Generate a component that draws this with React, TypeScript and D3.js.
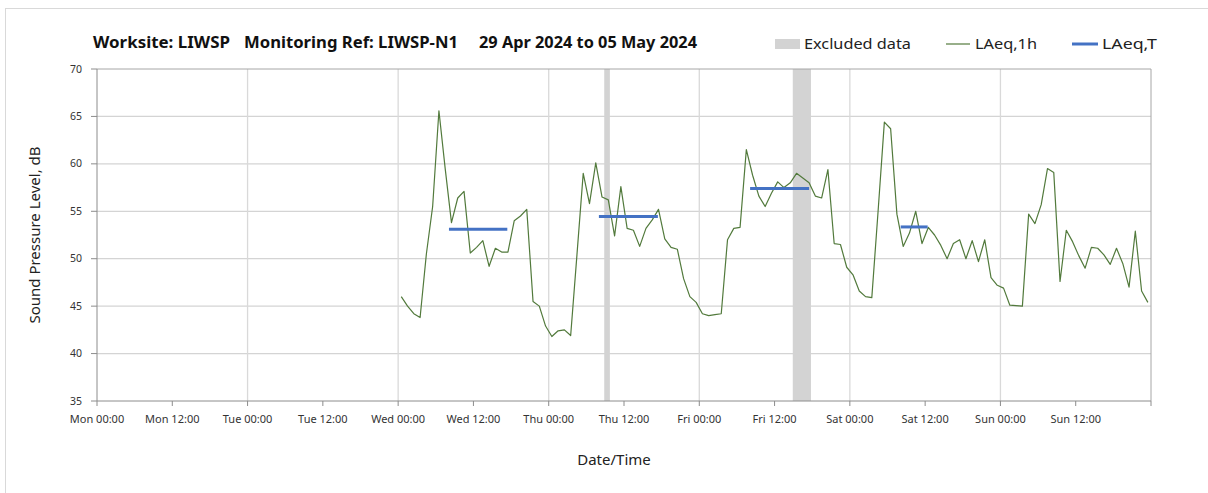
import * as d3 from "d3";

// hourly LAeq,1h values, first point Wed 00:30, one per hour
const FIRST_HOUR = 48.5; // hours from Mon 00:00
const LAEQ_1H = [
  46.0, 45.0, 44.2, 43.8, 50.5, 55.5, 65.6, 59.5, 53.8, 56.4, 57.1, 50.6,
  51.2, 51.9, 49.2, 51.1, 50.7, 50.7, 54.0, 54.5, 55.2, 45.5, 45.0, 42.9,
  41.8, 42.4, 42.5, 41.9, 50.4, 59.0, 55.8, 60.1, 56.5, 56.2, 52.4, 57.6,
  53.2, 53.0, 51.3, 53.2, 54.1, 55.2, 52.1, 51.2, 51.0, 47.9, 46.0, 45.4,
  44.2, 44.0, 44.1, 44.2, 52.0, 53.2, 53.3, 61.5, 58.8, 56.6, 55.5, 56.9,
  58.1, 57.5, 58.0, 59.0, 58.5, 58.0, 56.6, 56.4, 59.4, 51.6, 51.5, 49.1,
  48.3, 46.6, 46.0, 45.9, 55.0, 64.4, 63.7, 54.7, 51.3, 52.7, 55.0, 51.6,
  53.3, 52.5, 51.4, 50.0, 51.6, 52.0, 50.0, 51.9, 49.7, 52.0, 48.0, 47.2,
  46.9, 45.1, 45.05, 45.0, 54.7, 53.7, 55.7, 59.5, 59.1, 47.6, 53.0, 51.8,
  50.3, 49.0, 51.2, 51.1, 50.4, 49.4, 51.1, 49.5, 47.0, 52.9, 46.6, 45.4,
];

// LAeq,T periods: [start hour, end hour, level]
const LAEQ_T = [
  [56.1, 65.4, 53.1],
  [80.0, 89.4, 54.45],
  [104.1, 113.5, 57.4],
  [128.1, 132.4, 53.35],
];

// excluded periods: [start hour, end hour]
const EXCLUDED = [
  [80.85, 81.75],
  [110.9, 113.8],
];

const X_TICK_LABELS = [
  "Mon 00:00", "Mon 12:00", "Tue 00:00", "Tue 12:00", "Wed 00:00", "Wed 12:00",
  "Thu 00:00", "Thu 12:00", "Fri 00:00", "Fri 12:00", "Sat 00:00", "Sat 12:00",
  "Sun 00:00", "Sun 12:00",
];
const Y_TICKS = [35, 40, 45, 50, 55, 60, 65, 70];

const TITLE_PARTS = [
  { text: "Worksite: LIWSP", x: 93, w: 137 },
  { text: "Monitoring Ref: LIWSP-N1", x: 244, w: 214 },
  { text: "29 Apr 2024 to 05 May 2024", x: 479, w: 218 },
];

const FONT = "'Noto Sans', 'Open Sans', sans-serif";
const W = 1208;
const H = 493;

export default function App() {
  const left = 97, right = 1151, top = 69, bottom = 401;
  const x = d3.scaleLinear().domain([0, 168]).range([left, right]);
  const y = d3.scaleLinear().domain([35, 70]).range([bottom, top]);

  const line = d3
    .line<number>()
    .x((_, i) => x(FIRST_HOUR + i))
    .y((d) => y(d));

  const tickHours = d3.range(0, 169, 12);
  const dayHours = d3.range(24, 168, 24);

  return (
    <div style={{ position: "absolute", left: 0, top: 0 }}>
      <svg width={W} height={H} style={{ display: "block", fontFamily: FONT }}>
        <rect x={0} y={0} width={W} height={H} fill="#fff" />
        <rect x={5.5} y={8.5} width={W + 20} height={H + 20} fill="#fff" stroke="#d9d9d9" />

        {/* title */}
        {TITLE_PARTS.map((p) => (
          <text key={p.text} x={p.x} y={48} fontSize={15.5} fontWeight={700} fill="#111"
            textLength={p.w} lengthAdjust="spacingAndGlyphs">
            {p.text}
          </text>
        ))}

        {/* legend */}
        <rect x={775} y={39} width={25} height={10} fill="#d3d3d3" />
        <text x={804} y={49} fontSize={14.5} fill="#222" textLength={107} lengthAdjust="spacingAndGlyphs">Excluded data</text>
        <line x1={946} x2={970} y1={44} y2={44} stroke="#527a3c" strokeWidth={1.2} />
        <text x={975} y={49} fontSize={14.5} fill="#222" textLength={62} lengthAdjust="spacingAndGlyphs">LAeq,1h</text>
        <line x1={1072} x2={1098} y1={44} y2={44} stroke="#4472c4" strokeWidth={3} />
        <text x={1102} y={49} fontSize={14.5} fill="#222" textLength={55} lengthAdjust="spacingAndGlyphs">LAeq,T</text>

        {/* gridlines */}
        {Y_TICKS.slice(1, -1).map((v) => (
          <line key={v} x1={left} x2={right} y1={y(v)} y2={y(v)} stroke="#d4d4d4" strokeWidth={1.3} />
        ))}
        {dayHours.map((h) => (
          <line key={h} x1={x(h)} x2={x(h)} y1={top} y2={bottom} stroke="#d9d9d9" strokeWidth={1.3} />
        ))}

        {/* excluded data */}
        {EXCLUDED.map(([s, e]) => (
          <rect key={s} x={x(s)} y={top} width={x(e) - x(s)} height={bottom - top} fill="#d3d3d3" />
        ))}

        {/* plot border */}
        <line x1={left} x2={right} y1={top} y2={top} stroke="#a6a6a6" />
        <line x1={right} x2={right} y1={top} y2={bottom} stroke="#a6a6a6" />

        {/* LAeq,1h */}
        <path d={line(LAEQ_1H) ?? ""} fill="none" stroke="#527a3c" strokeWidth={1.2} strokeLinejoin="round" />

        {/* LAeq,T */}
        {LAEQ_T.map(([s, e, v]) => (
          <line key={s} x1={x(s)} x2={x(e)} y1={y(v)} y2={y(v)} stroke="#4472c4" strokeWidth={3} />
        ))}

        {/* axes */}
        <line x1={left} x2={right} y1={bottom} y2={bottom} stroke="#8c8c8c" />
        <line x1={left} x2={left} y1={top} y2={bottom} stroke="#8c8c8c" />
        {Y_TICKS.map((v) => (
          <g key={v}>
            <line x1={left - 6} x2={left} y1={y(v)} y2={y(v)} stroke="#8c8c8c" />
            <text x={82} y={y(v) + 3.5} fontSize={10.5} fill="#333" textAnchor="end">{v}</text>
          </g>
        ))}
        {tickHours.map((h, i) => (
          <g key={h}>
            <line x1={x(h)} x2={x(h)} y1={bottom} y2={bottom + 5} stroke="#8c8c8c" />
            {X_TICK_LABELS[i] && (
              <text x={x(h)} y={423} fontSize={11} fill="#333" textAnchor="middle">{X_TICK_LABELS[i]}</text>
            )}
          </g>
        ))}

        {/* axis titles */}
        <text transform={`translate(40,${(top + bottom) / 2}) rotate(-90)`} fontSize={15} fill="#222" textAnchor="middle">
          Sound Pressure Level, dB
        </text>
        <text x={614} y={465} fontSize={15} fill="#222" textAnchor="middle">Date/Time</text>
      </svg>
    </div>
  );
}
